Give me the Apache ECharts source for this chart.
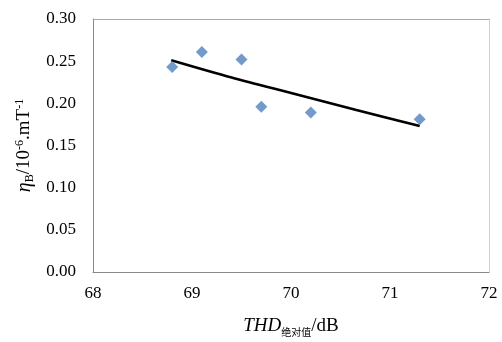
<!DOCTYPE html>
<html>
<head>
<meta charset="utf-8">
<script src="https://cdn.jsdelivr.net/npm/echarts@6/dist/echarts.min.js"></script>
<style>
  html, body { margin: 0; padding: 0; background: #fff; }
  #chart { width: 502px; height: 342px; }
</style>
</head>
<body>
<div id="chart"></div>
<script>
// 测量点
var thdValues = [68.8, 69.1, 69.5, 69.7, 70.2, 71.3]
var etaValues = [0.243, 0.261, 0.252, 0.196, 0.189, 0.181]
// 趋势线
var trendX = [68.79, 69.4, 70.04, 70.66, 71.3]
var trendY = [0.251, 0.2305, 0.211, 0.192, 0.173]
// 坐标轴
var xTicks = [68, 69, 70, 71, 72]
var yTicks = [0, 0.05, 0.1, 0.15, 0.2, 0.25, 0.3]

var serif = '"Liberation Serif", "Times New Roman", serif'
var cjk = '"Noto Sans CJK SC", sans-serif'

var chart = echarts.init(document.getElementById('chart'))

var scatterData = thdValues.map(function (x, i) { return [x, etaValues[i]] })
var trendData = trendX.map(function (x, i) { return [x, trendY[i]] })

var option = {
  animation: false,
  backgroundColor: '#fff',
  grid: { left: 93, right: 13, top: 19, bottom: 69, containLabel: false },
  xAxis: [
    {
      type: 'value',
      min: xTicks[0],
      max: xTicks[xTicks.length - 1],
      interval: 1,
      axisLine: { show: true, onZero: false, lineStyle: { color: '#898989', width: 1 } },
      axisTick: { show: false },
      splitLine: { show: false },
      axisLabel: { color: '#000', fontFamily: serif, fontSize: 17, margin: 13 },
      name: '{i|THD}{sub|绝对值}{n|/dB}',
      nameLocation: 'middle',
      nameGap: 43,
      nameTextStyle: {
        rich: {
          i: { fontFamily: serif, fontStyle: 'italic', fontSize: 19, color: '#000', lineHeight: 22 },
          sub: { fontFamily: cjk, fontSize: 10, color: '#000', verticalAlign: 'bottom', lineHeight: 12 },
          n: { fontFamily: serif, fontSize: 19, color: '#000', lineHeight: 22 }
        }
      }
    },
    {
      type: 'value',
      position: 'top',
      min: xTicks[0],
      max: xTicks[xTicks.length - 1],
      axisLine: { show: true, onZero: false, lineStyle: { color: '#8faadc', width: 1 } },
      axisTick: { show: false },
      axisLabel: { show: false },
      splitLine: { show: false }
    }
  ],
  yAxis: [
    {
      type: 'value',
      min: yTicks[0],
      max: yTicks[yTicks.length - 1],
      interval: 0.05,
      axisLine: { show: true, onZero: false, lineStyle: { color: '#898989', width: 1 } },
      axisTick: { show: false },
      splitLine: { show: false },
      axisLabel: {
        color: '#000', fontFamily: serif, fontSize: 17, margin: 17,
        formatter: function (v) { return v.toFixed(2) }
      },
      name: '{i|η}{sub|B}{n|/10}{sup|-6}{n|.mT}{sup|-1}',
      nameLocation: 'middle',
      nameGap: 45,
      nameTextStyle: {
        rich: {
          i: { fontFamily: serif, fontStyle: 'italic', fontSize: 20, color: '#000', lineHeight: 22 },
          sub: { fontFamily: serif, fontSize: 12, color: '#000', verticalAlign: 'bottom', lineHeight: 12 },
          sup: { fontFamily: serif, fontSize: 12, color: '#000', verticalAlign: 'top', lineHeight: 12 },
          n: { fontFamily: serif, fontSize: 19, color: '#000', lineHeight: 22 }
        }
      }
    },
    {
      type: 'value',
      position: 'right',
      min: yTicks[0],
      max: yTicks[yTicks.length - 1],
      axisLine: { show: true, onZero: false, lineStyle: { color: '#c3d3ee', width: 1 } },
      axisTick: { show: false },
      axisLabel: { show: false },
      splitLine: { show: false }
    }
  ],
  series: [
    {
      name: 'trend',
      type: 'line',
      data: trendData,
      smooth: 0.3,
      showSymbol: false,
      lineStyle: { color: '#000', width: 2.6 },
      z: 2
    },
    {
      name: 'data',
      type: 'scatter',
      data: scatterData,
      symbol: 'diamond',
      symbolSize: 12,
      itemStyle: { color: '#4f81bd' },
      z: 3
    }
  ]
}

chart.setOption(option)
</script>
</body>
</html>
